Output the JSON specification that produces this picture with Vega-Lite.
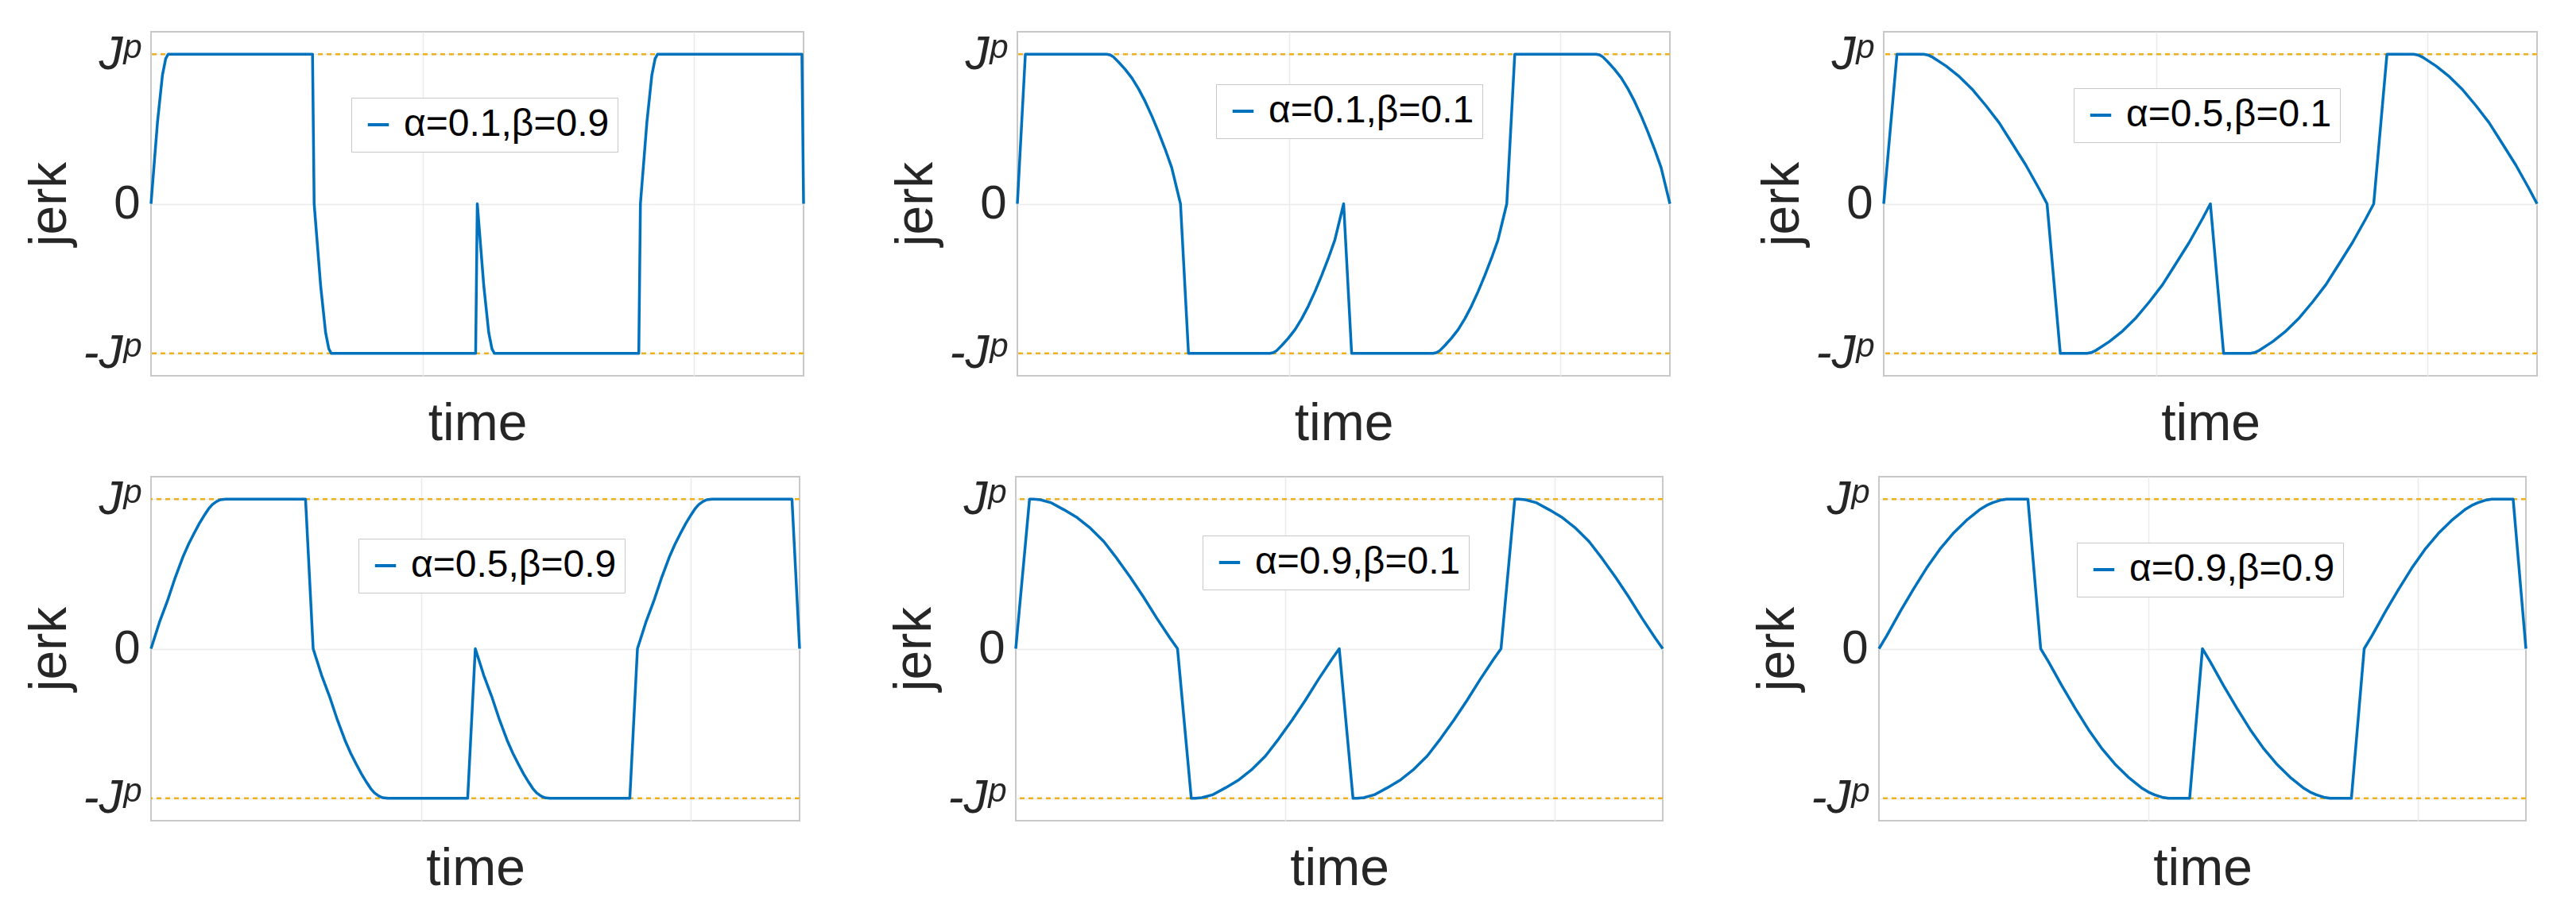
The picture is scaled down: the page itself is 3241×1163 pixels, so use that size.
{
  "$schema": "https://vega.github.io/schema/vega-lite/v6.json",
  "padding": {"left": 28, "top": 37, "right": 10, "bottom": 10},
  "background": "white",
  "datasets": {
    "rules": [{"y": 1}, {"y": -1}],
    "d1": [
      {"x":0,"y":0},{"x":0.04,"y":0.55},{"x":0.07,"y":0.86},{"x":0.09,"y":0.97},{"x":0.105,"y":1},{"x":0.99,"y":1},{"x":1,"y":0},
      {"x":1.04,"y":-0.55},{"x":1.07,"y":-0.86},{"x":1.09,"y":-0.97},{"x":1.105,"y":-1},{"x":1.99,"y":-1},{"x":2,"y":0},
      {"x":2.04,"y":-0.55},{"x":2.07,"y":-0.86},{"x":2.09,"y":-0.97},{"x":2.105,"y":-1},{"x":2.99,"y":-1},{"x":3,"y":0},
      {"x":3.04,"y":0.55},{"x":3.07,"y":0.86},{"x":3.09,"y":0.97},{"x":3.105,"y":1},{"x":3.99,"y":1},{"x":4,"y":0}
    ],
    "d2": [
      {"x":0,"y":0},{"x":0.049,"y":1},{"x":0.548,"y":1},{"x":0.57,"y":0.995},{"x":0.589,"y":0.982},{"x":0.621,"y":0.947},{"x":0.66,"y":0.9},{"x":0.702,"y":0.841},{"x":0.743,"y":0.768},{"x":0.784,"y":0.683},{"x":0.825,"y":0.585},{"x":0.865,"y":0.48},{"x":0.906,"y":0.365},{"x":0.946,"y":0.242},{"x":1,"y":0},
      {"x":1.049,"y":-1},{"x":1.548,"y":-1},{"x":1.57,"y":-0.995},{"x":1.589,"y":-0.982},{"x":1.621,"y":-0.947},{"x":1.66,"y":-0.9},{"x":1.702,"y":-0.841},{"x":1.743,"y":-0.768},{"x":1.784,"y":-0.683},{"x":1.825,"y":-0.585},{"x":1.865,"y":-0.48},{"x":1.906,"y":-0.365},{"x":1.946,"y":-0.242},{"x":2,"y":0},
      {"x":2.049,"y":-1},{"x":2.548,"y":-1},{"x":2.57,"y":-0.995},{"x":2.589,"y":-0.982},{"x":2.621,"y":-0.947},{"x":2.66,"y":-0.9},{"x":2.702,"y":-0.841},{"x":2.743,"y":-0.768},{"x":2.784,"y":-0.683},{"x":2.825,"y":-0.585},{"x":2.865,"y":-0.48},{"x":2.906,"y":-0.365},{"x":2.946,"y":-0.242},{"x":3,"y":0},
      {"x":3.049,"y":1},{"x":3.548,"y":1},{"x":3.57,"y":0.995},{"x":3.589,"y":0.982},{"x":3.621,"y":0.947},{"x":3.66,"y":0.9},{"x":3.702,"y":0.841},{"x":3.743,"y":0.768},{"x":3.784,"y":0.683},{"x":3.825,"y":0.585},{"x":3.865,"y":0.48},{"x":3.906,"y":0.365},{"x":3.946,"y":0.242},{"x":4,"y":0}
    ],
    "d3": [
      {"x":0,"y":0},{"x":0.081,"y":1},{"x":0.244,"y":1},{"x":0.27,"y":0.995},{"x":0.301,"y":0.979},{"x":0.382,"y":0.921},{"x":0.463,"y":0.85},{"x":0.545,"y":0.762},{"x":0.626,"y":0.656},{"x":0.707,"y":0.541},{"x":0.789,"y":0.4},{"x":0.87,"y":0.259},{"x":0.951,"y":0.101},{"x":1,"y":0},
      {"x":1.081,"y":-1},{"x":1.244,"y":-1},{"x":1.27,"y":-0.995},{"x":1.301,"y":-0.979},{"x":1.382,"y":-0.921},{"x":1.463,"y":-0.85},{"x":1.545,"y":-0.762},{"x":1.626,"y":-0.656},{"x":1.707,"y":-0.541},{"x":1.789,"y":-0.4},{"x":1.87,"y":-0.259},{"x":1.951,"y":-0.101},{"x":2,"y":0},
      {"x":2.081,"y":-1},{"x":2.244,"y":-1},{"x":2.27,"y":-0.995},{"x":2.301,"y":-0.979},{"x":2.382,"y":-0.921},{"x":2.463,"y":-0.85},{"x":2.545,"y":-0.762},{"x":2.626,"y":-0.656},{"x":2.707,"y":-0.541},{"x":2.789,"y":-0.4},{"x":2.87,"y":-0.259},{"x":2.951,"y":-0.101},{"x":3,"y":0},
      {"x":3.081,"y":1},{"x":3.244,"y":1},{"x":3.27,"y":0.995},{"x":3.301,"y":0.979},{"x":3.382,"y":0.921},{"x":3.463,"y":0.85},{"x":3.545,"y":0.762},{"x":3.626,"y":0.656},{"x":3.707,"y":0.541},{"x":3.789,"y":0.4},{"x":3.87,"y":0.259},{"x":3.951,"y":0.101},{"x":4,"y":0}
    ],
    "d4": [
      {"x":0,"y":0},{"x":0.052,"y":0.177},{"x":0.101,"y":0.319},{"x":0.15,"y":0.478},{"x":0.199,"y":0.619},{"x":0.232,"y":0.7},{"x":0.265,"y":0.77},{"x":0.298,"y":0.837},{"x":0.33,"y":0.894},{"x":0.355,"y":0.935},{"x":0.379,"y":0.965},{"x":0.405,"y":0.985},{"x":0.428,"y":0.996},{"x":0.461,"y":1},{"x":0.953,"y":1},{"x":1,"y":0},
      {"x":1.052,"y":-0.177},{"x":1.101,"y":-0.319},{"x":1.15,"y":-0.478},{"x":1.199,"y":-0.619},{"x":1.232,"y":-0.7},{"x":1.265,"y":-0.77},{"x":1.298,"y":-0.837},{"x":1.33,"y":-0.894},{"x":1.355,"y":-0.935},{"x":1.379,"y":-0.965},{"x":1.405,"y":-0.985},{"x":1.428,"y":-0.996},{"x":1.461,"y":-1},{"x":1.953,"y":-1},{"x":2,"y":0},
      {"x":2.052,"y":-0.177},{"x":2.101,"y":-0.319},{"x":2.15,"y":-0.478},{"x":2.199,"y":-0.619},{"x":2.232,"y":-0.7},{"x":2.265,"y":-0.77},{"x":2.298,"y":-0.837},{"x":2.33,"y":-0.894},{"x":2.355,"y":-0.935},{"x":2.379,"y":-0.965},{"x":2.405,"y":-0.985},{"x":2.428,"y":-0.996},{"x":2.461,"y":-1},{"x":2.953,"y":-1},{"x":3,"y":0},
      {"x":3.052,"y":0.177},{"x":3.101,"y":0.319},{"x":3.15,"y":0.478},{"x":3.199,"y":0.619},{"x":3.232,"y":0.7},{"x":3.265,"y":0.77},{"x":3.298,"y":0.837},{"x":3.33,"y":0.894},{"x":3.355,"y":0.935},{"x":3.379,"y":0.965},{"x":3.405,"y":0.985},{"x":3.428,"y":0.996},{"x":3.461,"y":1},{"x":3.953,"y":1},{"x":4,"y":0}
    ],
    "d5": [
      {"x":0,"y":0},{"x":0.085,"y":1},{"x":0.11,"y":1},{"x":0.151,"y":0.996},{"x":0.216,"y":0.977},{"x":0.298,"y":0.929},{"x":0.38,"y":0.876},{"x":0.462,"y":0.805},{"x":0.544,"y":0.717},{"x":0.626,"y":0.602},{"x":0.708,"y":0.478},{"x":0.79,"y":0.345},{"x":0.872,"y":0.204},{"x":0.954,"y":0.07},{"x":1,"y":0},
      {"x":1.085,"y":-1},{"x":1.11,"y":-1},{"x":1.151,"y":-0.996},{"x":1.216,"y":-0.977},{"x":1.298,"y":-0.929},{"x":1.38,"y":-0.876},{"x":1.462,"y":-0.805},{"x":1.544,"y":-0.717},{"x":1.626,"y":-0.602},{"x":1.708,"y":-0.478},{"x":1.79,"y":-0.345},{"x":1.872,"y":-0.204},{"x":1.954,"y":-0.07},{"x":2,"y":0},
      {"x":2.085,"y":-1},{"x":2.11,"y":-1},{"x":2.151,"y":-0.996},{"x":2.216,"y":-0.977},{"x":2.298,"y":-0.929},{"x":2.38,"y":-0.876},{"x":2.462,"y":-0.805},{"x":2.544,"y":-0.717},{"x":2.626,"y":-0.602},{"x":2.708,"y":-0.478},{"x":2.79,"y":-0.345},{"x":2.872,"y":-0.204},{"x":2.954,"y":-0.07},{"x":3,"y":0},
      {"x":3.085,"y":1},{"x":3.11,"y":1},{"x":3.151,"y":0.996},{"x":3.216,"y":0.977},{"x":3.298,"y":0.929},{"x":3.38,"y":0.876},{"x":3.462,"y":0.805},{"x":3.544,"y":0.717},{"x":3.626,"y":0.602},{"x":3.708,"y":0.478},{"x":3.79,"y":0.345},{"x":3.872,"y":0.204},{"x":3.954,"y":0.07},{"x":4,"y":0}
    ],
    "d6": [
      {"x":0,"y":0},{"x":0.049,"y":0.088},{"x":0.131,"y":0.248},{"x":0.213,"y":0.398},{"x":0.295,"y":0.54},{"x":0.376,"y":0.664},{"x":0.458,"y":0.77},{"x":0.541,"y":0.858},{"x":0.622,"y":0.929},{"x":0.665,"y":0.958},{"x":0.704,"y":0.977},{"x":0.75,"y":0.993},{"x":0.79,"y":1},{"x":0.921,"y":1},{"x":1,"y":0},
      {"x":1.049,"y":-0.088},{"x":1.131,"y":-0.248},{"x":1.213,"y":-0.398},{"x":1.295,"y":-0.54},{"x":1.376,"y":-0.664},{"x":1.458,"y":-0.77},{"x":1.541,"y":-0.858},{"x":1.622,"y":-0.929},{"x":1.665,"y":-0.958},{"x":1.704,"y":-0.977},{"x":1.75,"y":-0.993},{"x":1.79,"y":-1},{"x":1.921,"y":-1},{"x":2,"y":0},
      {"x":2.049,"y":-0.088},{"x":2.131,"y":-0.248},{"x":2.213,"y":-0.398},{"x":2.295,"y":-0.54},{"x":2.376,"y":-0.664},{"x":2.458,"y":-0.77},{"x":2.541,"y":-0.858},{"x":2.622,"y":-0.929},{"x":2.665,"y":-0.958},{"x":2.704,"y":-0.977},{"x":2.75,"y":-0.993},{"x":2.79,"y":-1},{"x":2.921,"y":-1},{"x":3,"y":0},
      {"x":3.049,"y":0.088},{"x":3.131,"y":0.248},{"x":3.213,"y":0.398},{"x":3.295,"y":0.54},{"x":3.376,"y":0.664},{"x":3.458,"y":0.77},{"x":3.541,"y":0.858},{"x":3.622,"y":0.929},{"x":3.665,"y":0.958},{"x":3.704,"y":0.977},{"x":3.75,"y":0.993},{"x":3.79,"y":1},{"x":3.921,"y":1},{"x":4,"y":0}
    ]
  },
  "spacing": 30,
  "resolve": {"scale": {"color": "independent"}, "legend": {"color": "independent"}},
  "vconcat": [
    {
      "bounds": "flush",
      "spacing": 269,
      "resolve": {"scale": {"color": "independent"}, "legend": {"color": "independent"}},
      "hconcat": [
        {
          "width": 821, "height": 433,
          "layer": [
            {"data": {"name": "rules"}, "mark": {"type": "rule", "color": "#EDB120", "strokeWidth": 2.5, "strokeDash": [6, 5]},
             "encoding": {"y": {"field": "y", "type": "quantitative", "scale": {"domain": [-1.15, 1.15], "nice": false},
               "axis": {"title": "jerk", "values": [-1, 0, 1], "labelExpr": "datum.value == 1 ? 'Jᵖ' : (datum.value == -1 ? '-Jᵖ' : '0')", "labelFontStyle": {"condition": {"test": "datum.value == 0", "value": "normal"}, "value": "italic"}, "grid": true, "ticks": false, "domain": false, "labelPadding": 14, "titlePadding": 8}}}},
            {"data": {"name": "d1"}, "mark": {"type": "line", "strokeWidth": 3.5, "strokeJoin": "round"},
             "encoding": {
               "x": {"field": "x", "type": "quantitative", "scale": {"domain": [0, 4], "nice": false, "zero": false}, "axis": {"title": "time", "values": [1.668, 3.33], "labels": false, "ticks": false, "domain": false, "grid": true, "titlePadding": 28}},
               "y": {"field": "y", "type": "quantitative", "scale": {"domain": [-1.15, 1.15], "nice": false},
                 "axis": {"title": "jerk", "values": [-1, 0, 1], "labelExpr": "datum.value == 1 ? 'Jᵖ' : (datum.value == -1 ? '-Jᵖ' : '0')", "labelFontStyle": {"condition": {"test": "datum.value == 0", "value": "normal"}, "value": "italic"}, "grid": true, "ticks": false, "domain": false, "labelPadding": 14, "titlePadding": 8}},
               "color": {"datum": "α=0.1,β=0.9", "type": "nominal", "scale": {"range": ["#0072BD"]}, "legend": {"title": null, "orient": "none", "legendX": 252, "legendY": 83}}
             }}
          ]
        },
        {
          "width": 821, "height": 433,
          "layer": [
            {"data": {"name": "rules"}, "mark": {"type": "rule", "color": "#EDB120", "strokeWidth": 2.5, "strokeDash": [6, 5]},
             "encoding": {"y": {"field": "y", "type": "quantitative", "scale": {"domain": [-1.15, 1.15], "nice": false},
               "axis": {"title": "jerk", "values": [-1, 0, 1], "labelExpr": "datum.value == 1 ? 'Jᵖ' : (datum.value == -1 ? '-Jᵖ' : '0')", "labelFontStyle": {"condition": {"test": "datum.value == 0", "value": "normal"}, "value": "italic"}, "grid": true, "ticks": false, "domain": false, "labelPadding": 14, "titlePadding": 8}}}},
            {"data": {"name": "d2"}, "mark": {"type": "line", "strokeWidth": 3.5, "strokeJoin": "round"},
             "encoding": {
               "x": {"field": "x", "type": "quantitative", "scale": {"domain": [0, 4], "nice": false, "zero": false}, "axis": {"title": "time", "values": [1.668, 3.33], "labels": false, "ticks": false, "domain": false, "grid": true, "titlePadding": 28}},
               "y": {"field": "y", "type": "quantitative", "scale": {"domain": [-1.15, 1.15], "nice": false},
                 "axis": {"title": "jerk", "values": [-1, 0, 1], "labelExpr": "datum.value == 1 ? 'Jᵖ' : (datum.value == -1 ? '-Jᵖ' : '0')", "labelFontStyle": {"condition": {"test": "datum.value == 0", "value": "normal"}, "value": "italic"}, "grid": true, "ticks": false, "domain": false, "labelPadding": 14, "titlePadding": 8}},
               "color": {"datum": "α=0.1,β=0.1", "type": "nominal", "scale": {"range": ["#0072BD"]}, "legend": {"title": null, "orient": "none", "legendX": 250, "legendY": 66}}
             }}
          ]
        },
        {
          "width": 822, "height": 433,
          "layer": [
            {"data": {"name": "rules"}, "mark": {"type": "rule", "color": "#EDB120", "strokeWidth": 2.5, "strokeDash": [6, 5]},
             "encoding": {"y": {"field": "y", "type": "quantitative", "scale": {"domain": [-1.15, 1.15], "nice": false},
               "axis": {"title": "jerk", "values": [-1, 0, 1], "labelExpr": "datum.value == 1 ? 'Jᵖ' : (datum.value == -1 ? '-Jᵖ' : '0')", "labelFontStyle": {"condition": {"test": "datum.value == 0", "value": "normal"}, "value": "italic"}, "grid": true, "ticks": false, "domain": false, "labelPadding": 14, "titlePadding": 8}}}},
            {"data": {"name": "d3"}, "mark": {"type": "line", "strokeWidth": 3.5, "strokeJoin": "round"},
             "encoding": {
               "x": {"field": "x", "type": "quantitative", "scale": {"domain": [0, 4], "nice": false, "zero": false}, "axis": {"title": "time", "values": [1.668, 3.33], "labels": false, "ticks": false, "domain": false, "grid": true, "titlePadding": 28}},
               "y": {"field": "y", "type": "quantitative", "scale": {"domain": [-1.15, 1.15], "nice": false},
                 "axis": {"title": "jerk", "values": [-1, 0, 1], "labelExpr": "datum.value == 1 ? 'Jᵖ' : (datum.value == -1 ? '-Jᵖ' : '0')", "labelFontStyle": {"condition": {"test": "datum.value == 0", "value": "normal"}, "value": "italic"}, "grid": true, "ticks": false, "domain": false, "labelPadding": 14, "titlePadding": 8}},
               "color": {"datum": "α=0.5,β=0.1", "type": "nominal", "scale": {"range": ["#0072BD"]}, "legend": {"title": null, "orient": "none", "legendX": 239, "legendY": 71}}
             }}
          ]
        }
      ]
    },
    {
      "bounds": "flush",
      "spacing": 272,
      "resolve": {"scale": {"color": "independent"}, "legend": {"color": "independent"}},
      "hconcat": [
        {
          "width": 816, "height": 433,
          "layer": [
            {"data": {"name": "rules"}, "mark": {"type": "rule", "color": "#EDB120", "strokeWidth": 2.5, "strokeDash": [6, 5]},
             "encoding": {"y": {"field": "y", "type": "quantitative", "scale": {"domain": [-1.15, 1.15], "nice": false},
               "axis": {"title": "jerk", "values": [-1, 0, 1], "labelExpr": "datum.value == 1 ? 'Jᵖ' : (datum.value == -1 ? '-Jᵖ' : '0')", "labelFontStyle": {"condition": {"test": "datum.value == 0", "value": "normal"}, "value": "italic"}, "grid": true, "ticks": false, "domain": false, "labelPadding": 14, "titlePadding": 8}}}},
            {"data": {"name": "d4"}, "mark": {"type": "line", "strokeWidth": 3.5, "strokeJoin": "round"},
             "encoding": {
               "x": {"field": "x", "type": "quantitative", "scale": {"domain": [0, 4], "nice": false, "zero": false}, "axis": {"title": "time", "values": [1.668, 3.33], "labels": false, "ticks": false, "domain": false, "grid": true, "titlePadding": 28}},
               "y": {"field": "y", "type": "quantitative", "scale": {"domain": [-1.15, 1.15], "nice": false},
                 "axis": {"title": "jerk", "values": [-1, 0, 1], "labelExpr": "datum.value == 1 ? 'Jᵖ' : (datum.value == -1 ? '-Jᵖ' : '0')", "labelFontStyle": {"condition": {"test": "datum.value == 0", "value": "normal"}, "value": "italic"}, "grid": true, "ticks": false, "domain": false, "labelPadding": 14, "titlePadding": 8}},
               "color": {"datum": "α=0.5,β=0.9", "type": "nominal", "scale": {"range": ["#0072BD"]}, "legend": {"title": null, "orient": "none", "legendX": 261, "legendY": 78}}
             }}
          ]
        },
        {
          "width": 814, "height": 433,
          "layer": [
            {"data": {"name": "rules"}, "mark": {"type": "rule", "color": "#EDB120", "strokeWidth": 2.5, "strokeDash": [6, 5]},
             "encoding": {"y": {"field": "y", "type": "quantitative", "scale": {"domain": [-1.15, 1.15], "nice": false},
               "axis": {"title": "jerk", "values": [-1, 0, 1], "labelExpr": "datum.value == 1 ? 'Jᵖ' : (datum.value == -1 ? '-Jᵖ' : '0')", "labelFontStyle": {"condition": {"test": "datum.value == 0", "value": "normal"}, "value": "italic"}, "grid": true, "ticks": false, "domain": false, "labelPadding": 14, "titlePadding": 8}}}},
            {"data": {"name": "d5"}, "mark": {"type": "line", "strokeWidth": 3.5, "strokeJoin": "round"},
             "encoding": {
               "x": {"field": "x", "type": "quantitative", "scale": {"domain": [0, 4], "nice": false, "zero": false}, "axis": {"title": "time", "values": [1.668, 3.33], "labels": false, "ticks": false, "domain": false, "grid": true, "titlePadding": 28}},
               "y": {"field": "y", "type": "quantitative", "scale": {"domain": [-1.15, 1.15], "nice": false},
                 "axis": {"title": "jerk", "values": [-1, 0, 1], "labelExpr": "datum.value == 1 ? 'Jᵖ' : (datum.value == -1 ? '-Jᵖ' : '0')", "labelFontStyle": {"condition": {"test": "datum.value == 0", "value": "normal"}, "value": "italic"}, "grid": true, "ticks": false, "domain": false, "labelPadding": 14, "titlePadding": 8}},
               "color": {"datum": "α=0.9,β=0.1", "type": "nominal", "scale": {"range": ["#0072BD"]}, "legend": {"title": null, "orient": "none", "legendX": 235, "legendY": 74}}
             }}
          ]
        },
        {
          "width": 814, "height": 433,
          "layer": [
            {"data": {"name": "rules"}, "mark": {"type": "rule", "color": "#EDB120", "strokeWidth": 2.5, "strokeDash": [6, 5]},
             "encoding": {"y": {"field": "y", "type": "quantitative", "scale": {"domain": [-1.15, 1.15], "nice": false},
               "axis": {"title": "jerk", "values": [-1, 0, 1], "labelExpr": "datum.value == 1 ? 'Jᵖ' : (datum.value == -1 ? '-Jᵖ' : '0')", "labelFontStyle": {"condition": {"test": "datum.value == 0", "value": "normal"}, "value": "italic"}, "grid": true, "ticks": false, "domain": false, "labelPadding": 14, "titlePadding": 8}}}},
            {"data": {"name": "d6"}, "mark": {"type": "line", "strokeWidth": 3.5, "strokeJoin": "round"},
             "encoding": {
               "x": {"field": "x", "type": "quantitative", "scale": {"domain": [0, 4], "nice": false, "zero": false}, "axis": {"title": "time", "values": [1.668, 3.33], "labels": false, "ticks": false, "domain": false, "grid": true, "titlePadding": 28}},
               "y": {"field": "y", "type": "quantitative", "scale": {"domain": [-1.15, 1.15], "nice": false},
                 "axis": {"title": "jerk", "values": [-1, 0, 1], "labelExpr": "datum.value == 1 ? 'Jᵖ' : (datum.value == -1 ? '-Jᵖ' : '0')", "labelFontStyle": {"condition": {"test": "datum.value == 0", "value": "normal"}, "value": "italic"}, "grid": true, "ticks": false, "domain": false, "labelPadding": 14, "titlePadding": 8}},
               "color": {"datum": "α=0.9,β=0.9", "type": "nominal", "scale": {"range": ["#0072BD"]}, "legend": {"title": null, "orient": "none", "legendX": 249, "legendY": 83}}
             }}
          ]
        }
      ]
    }
  ],
  "config": {
    "font": "Liberation Sans",
    "view": {"stroke": "#c8c8c8", "strokeWidth": 2},
    "axis": {"labelFont": "Liberation Sans", "titleFont": "Liberation Sans", "labelColor": "#262626", "titleColor": "#262626", "titleFontWeight": "normal", "gridColor": "#ebebeb", "gridWidth": 1.5, "labelFontSize": 60, "titleFontSize": 66},
    "legend": {"symbolType": "stroke", "symbolStrokeWidth": 4, "symbolSize": 700, "labelFontSize": 48, "labelFont": "Liberation Sans", "labelColor": "#000000", "padding": 10, "strokeColor": "#c8c8c8", "fillColor": "#ffffff", "labelOffset": 8, "labelLimit": 600}
  }
}
